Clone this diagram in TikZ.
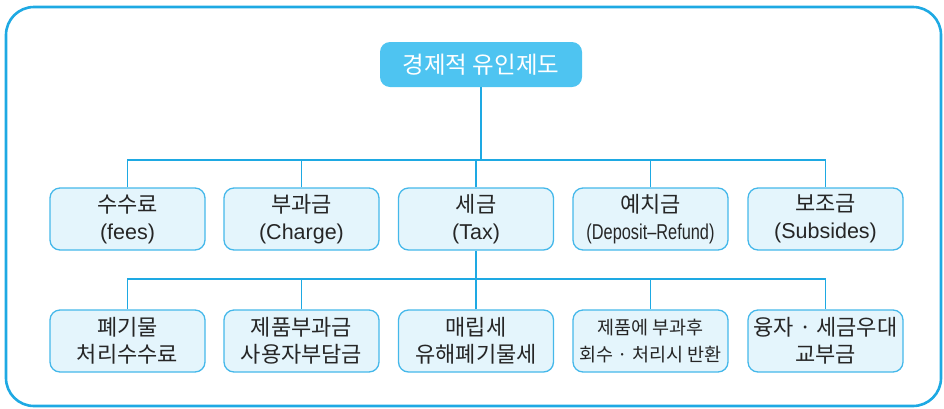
\documentclass[tikz,border=0pt]{standalone}
\usepackage{fontspec}
\setmainfont{Noto Sans CJK KR}
\newfontfamily\latfont{Liberation Sans}
\definecolor{lineblue}{HTML}{1EA9E3}
\definecolor{boxborder}{HTML}{45B8EA}
\definecolor{boxfill}{HTML}{E4F5FC}
\definecolor{topfill}{HTML}{4EC4F1}
\definecolor{txt}{HTML}{262626}
\begin{document}
\begin{tikzpicture}[x=1pt,y=-1pt,
  catbox/.style={draw=boxborder,line width=1.3pt,fill=boxfill,rounded corners=10pt,
    minimum width=155pt,minimum height=62pt,inner sep=0pt,align=center,text=txt,
    font=\fontsize{22}{27}\selectfont},
  topbox/.style={fill=topfill,rounded corners=10pt,minimum width=202pt,minimum height=45pt,
    inner sep=0pt,text=white,font=\fontsize{23.5}{27}\selectfont},
  conn/.style={draw=lineblue,line width=1.6pt},
  frame/.style={draw=lineblue,line width=2.6pt,rounded corners=28pt}]
\useasboundingbox (0,0) rectangle (944,408);
\draw[frame] (6,7) rectangle (941,406);
\node[topbox] (top) at (481,64.5) {경제적 유인제도};
\coordinate (b1) at (481,160);
\coordinate (b2) at (476,279);
\node[catbox] (n1) at (127.5,219) {수수료\\{\latfont\fontsize{21.5}{27}\selectfont (fees)}};
\node[catbox] (n2) at (301.5,219) {부과금\\{\latfont\fontsize{21.5}{27}\selectfont (Charge)}};
\node[catbox] (n3) at (476,219) {세금\\{\latfont\fontsize{21.5}{27}\selectfont (Tax)}};
\node[catbox] (n4) at (650.5,219) {예치금\\{\latfont\fontsize{21.5}{27}\selectfont\scalebox{0.76}[1]{(Deposit–Refund)}}};
\node[catbox] (n5) at (825.5,219) {보조금\\{\latfont\fontsize{21.5}{27}\selectfont (Subsides)}};
\node[catbox] (m1) at (127.5,341) {폐기물\\처리수수료};
\node[catbox] (m2) at (301.5,341) {제품부과금\\사용자부담금};
\node[catbox] (m3) at (476,341) {매립세\\유해폐기물세};
\node[catbox,font=\fontsize{18.5}{27}\selectfont] (m4) at (650.5,341) {제품에 부과후\\회수 · 처리시 반환};
\node[catbox] (m5) at (825.5,341) {융자 · 세금우대\\교부금};
\draw[conn] (top.south) -- (b1);
\draw[conn] (n1.north) |- (b1) -| (n5.north);
\draw[conn] (n2.north) -- (n2.north |- b1);
\draw[conn] (n3.north) -- (n3.north |- b1);
\draw[conn] (n4.north) -- (n4.north |- b1);
\draw[conn] (n3.south) -- (b2);
\draw[conn] (m1.north) |- (b2) -| (m5.north);
\draw[conn] (m2.north) -- (m2.north |- b2);
\draw[conn] (m3.north) -- (m3.north |- b2);
\draw[conn] (m4.north) -- (m4.north |- b2);
\end{tikzpicture}
\end{document}
